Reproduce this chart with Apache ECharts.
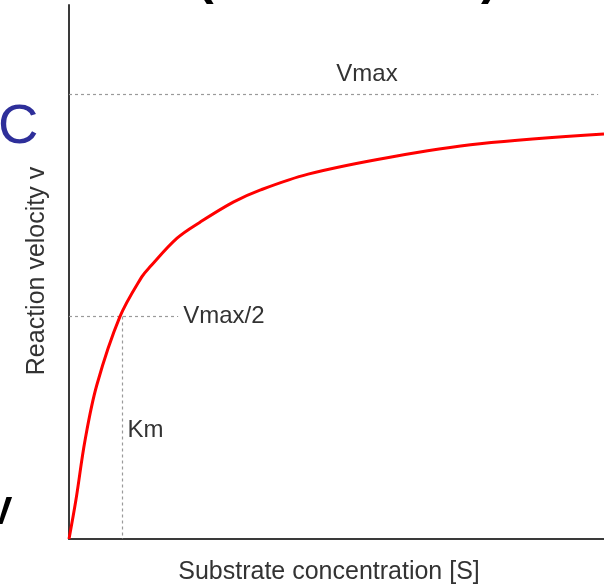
<!DOCTYPE html>
<html>
<head>
<meta charset="utf-8">
<script src="https://cdn.jsdelivr.net/npm/echarts@6/dist/echarts.min.js"></script>
<style>html,body{margin:0;padding:0;background:#fff;}#c{width:604px;height:584px;}</style>
</head>
<body>
<div id="c"></div>
<script>
// Substrate concentration (in units of Km) and reaction velocity (in units of Vmax)
var substrate = [0, 0.13, 0.30, 0.52, 0.95, 1.36, 1.51, 2.02, 2.45, 3.07, 3.57, 4.47, 6.0, 7.68, 10.0];
var velocity  = [0, 0.088, 0.222, 0.346, 0.499, 0.589, 0.611, 0.676, 0.712, 0.757, 0.784, 0.820, 0.858, 0.888, 0.910];
var vmax = 1;
var km = 1;
var vmaxLineEnd = 9.89;
var vmaxHalfLineEnd = 2.04;
var annotationNames = ['Vmax', 'Vmax/2', 'Km'];
var annotationX = [5.57, vmaxHalfLineEnd, km];
var annotationY = [vmax, vmax / 2, 0.245];
var xTitle = 'Substrate concentration [S]';
var yTitle = 'Reaction velocity v';

var font = "'Liberation Sans', Arial, sans-serif";
var chart = echarts.init(document.getElementById('c'), null, {renderer: 'canvas'});
var curve = substrate.map(function (s, i) { return [s, velocity[i]]; });
var dashStyle = {color: '#9a9a9a', width: 1.2, type: [3, 3]};

chart.setOption({
  animation: false,
  grid: {left: 69, right: 0, top: 5, bottom: 45, containLabel: false},
  xAxis: {
    type: 'value', min: 0, max: 10,
    axisLine: {show: true, lineStyle: {color: '#3a3a3a', width: 2}},
    axisTick: {show: false}, axisLabel: {show: false}, splitLine: {show: false}
  },
  yAxis: {
    type: 'value', min: 0, max: 1.2,
    axisLine: {show: true, lineStyle: {color: '#3a3a3a', width: 2}},
    axisTick: {show: false}, axisLabel: {show: false}, splitLine: {show: false}
  },
  series: [
    {
      type: 'line', data: curve, smooth: 0.35, showSymbol: false,
      lineStyle: {color: '#ff0000', width: 3}, z: 5,
      markLine: {
        silent: true, symbol: 'none', label: {show: false},
        lineStyle: dashStyle,
        data: [
          [{coord: [0, vmax]}, {coord: [vmaxLineEnd, vmax]}],
          [{coord: [0, vmax / 2]}, {coord: [vmaxHalfLineEnd, vmax / 2]}],
          [{coord: [km, vmax / 2]}, {coord: [km, 0]}]
        ]
      }
    }
  ]
});

var graphics = [
  {type: 'text', style: {text: xTitle, fill: '#333', font: '25px ' + font, textAlign: 'center', textVerticalAlign: 'middle'}, x: 329, y: 572},
  {type: 'text', style: {text: yTitle, fill: '#333', font: '25px ' + font, textAlign: 'center', textVerticalAlign: 'middle'}, x: 37, y: 271, rotation: Math.PI / 2},
  {type: 'text', style: {text: 'C', fill: '#2e2f9a', font: '56px ' + font, textAlign: 'left', textVerticalAlign: 'middle'}, x: -2, y: 128},
  {type: 'text', style: {text: 'V', fill: '#000', font: 'bold 38px ' + font, textAlign: 'left', textVerticalAlign: 'middle'}, x: -13, y: 514},
  {type: 'text', style: {text: '(', fill: '#000', font: 'bold 50px ' + font, textAlign: 'left', textVerticalAlign: 'bottom'}, x: 197, y: 5},
  {type: 'text', style: {text: ')', fill: '#000', font: 'bold 50px ' + font, textAlign: 'left', textVerticalAlign: 'bottom'}, x: 481, y: 5}
];
annotationNames.forEach(function (n, i) {
  var p = chart.convertToPixel({gridIndex: 0}, [annotationX[i], annotationY[i]]);
  if (i === 0) {
    graphics.push({type: 'text', style: {text: n, fill: '#333', font: '24px ' + font, textAlign: 'center', textVerticalAlign: 'bottom'}, x: p[0], y: p[1] - 8});
  } else {
    graphics.push({type: 'text', style: {text: n, fill: '#333', font: '24px ' + font, textAlign: 'left', textVerticalAlign: 'middle'}, x: p[0] + 5, y: p[1]});
  }
});
chart.setOption({graphic: graphics});
</script>
</body>
</html>
